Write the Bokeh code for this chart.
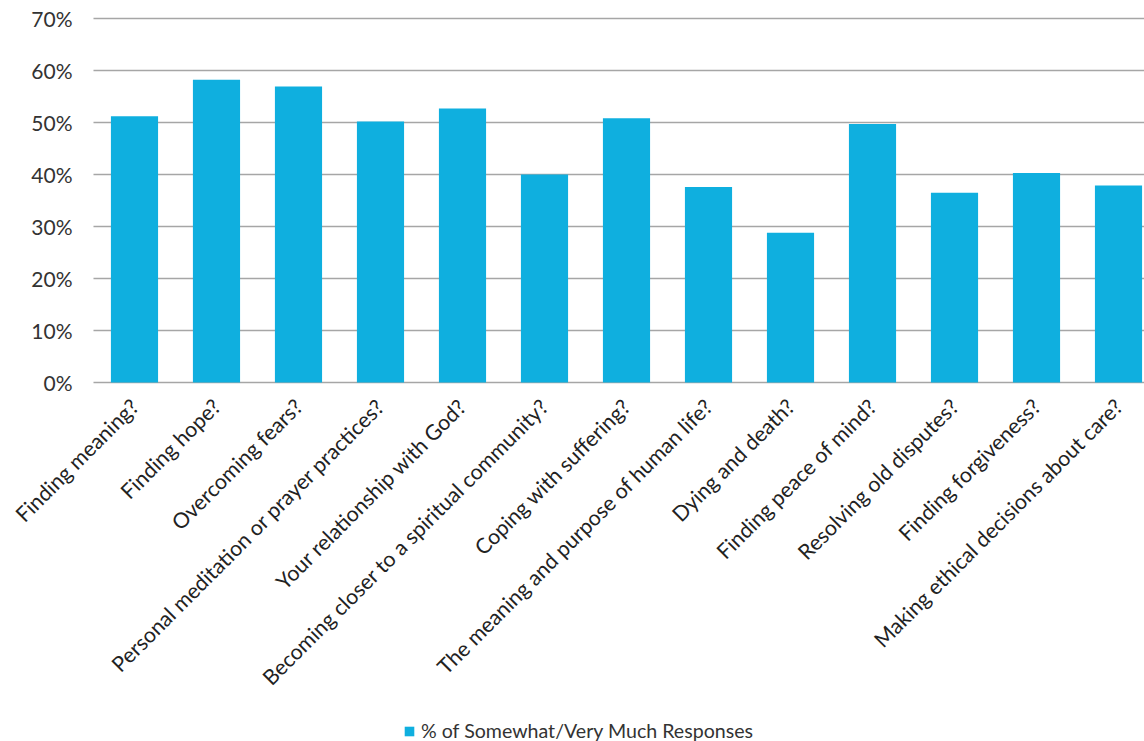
import math
from bokeh.plotting import figure
from bokeh.models import ColumnDataSource, Legend, LegendItem, Range1d
from bokeh.core.properties import value
from bokeh.embed import file_html
from bokeh.resources import INLINE

categories = [
    "Finding meaning?",
    "Finding hope?",
    "Overcoming fears?",
    "Personal meditation or prayer practices?",
    "Your relationship with God?",
    "Becoming closer to a spiritual community?",
    "Coping with suffering?",
    "The meaning and purpose of human life?",
    "Dying and death?",
    "Finding peace of mind?",
    "Resolving old disputes?",
    "Finding forgiveness?",
    "Making ethical decisions about care?",
]
values = [0.512, 0.582, 0.569, 0.502, 0.527, 0.400, 0.508, 0.376, 0.288,
          0.497, 0.365, 0.403, 0.379]
y_ticks = [0.0, 0.1, 0.2, 0.3, 0.4, 0.5, 0.6, 0.7]
y_tick_labels = ["0%", "10%", "20%", "30%", "40%", "50%", "60%", "70%"]
series_name = "% of Somewhat/Very Much Responses"

BAR = "#0FAFDF"
GRID = "#A6A6A6"
FONT = "Lato"

# plotting area: categories -0.5 .. 12.32 (last one clipped at the right
# edge), values 0 .. 70%; extra room around it holds the tick labels
X_START, X_END = -0.5, 12.317
x_range = Range1d(-1.634, X_END)
y_range = Range1d(-0.6904, 0.7346)

xs = list(range(len(categories)))
src = ColumnDataSource(dict(x=xs, top=values, name=categories,
                            base=[0.0] * len(categories)))
grid_src = ColumnDataSource(dict(y=y_ticks, label=y_tick_labels,
                                 x0=[X_START] * len(y_ticks),
                                 x1=[X_END] * len(y_ticks)))

p = figure(width=1144, height=741, output_backend="svg",
           toolbar_location=None, x_range=x_range, y_range=y_range,
           x_axis_type=None, y_axis_type=None,
           min_border_left=0, min_border_right=0, min_border_top=0,
           min_border_bottom=0)
p.outline_line_color = None
p.background_fill_color = "white"
p.xgrid.grid_line_color = None
p.ygrid.grid_line_color = None

# horizontal gridlines (the 0% line doubles as the category axis)
p.segment(x0="x0", y0="y", x1="x1", y1="y", source=grid_src,
          line_color=GRID, line_width=1.3)

r = p.vbar(x="x", top="top", bottom=0, width=0.575, source=src,
           fill_color=BAR, line_color=None)

# value tick labels
p.text(x="x0", y="y", text="label", source=grid_src,
       text_align="right", text_baseline="middle", x_offset=-21,
       text_font=value(FONT), text_font_size=value("21px"),
       text_color="#333333")

# category labels, rotated 45 degrees, ending under each bar
p.text(x="x", y="base", text="name", source=src, angle=math.pi / 4,
       text_align="right", text_baseline="middle",
       x_offset=0, y_offset=20,
       text_font=value(FONT), text_font_size=value("21.3px"),
       text_color="#222222")

legend = Legend(items=[LegendItem(label=series_name, renderers=[r])],
                orientation="horizontal", location=(403, -1),
                label_text_font=FONT, label_text_font_size="19.6px",
                label_text_color="#333333", glyph_width=12, glyph_height=12,
                border_line_color=None, background_fill_alpha=0,
                margin=0, padding=0, label_standoff=6)
p.add_layout(legend)

open("out.html", "w").write(file_html(p, INLINE))
